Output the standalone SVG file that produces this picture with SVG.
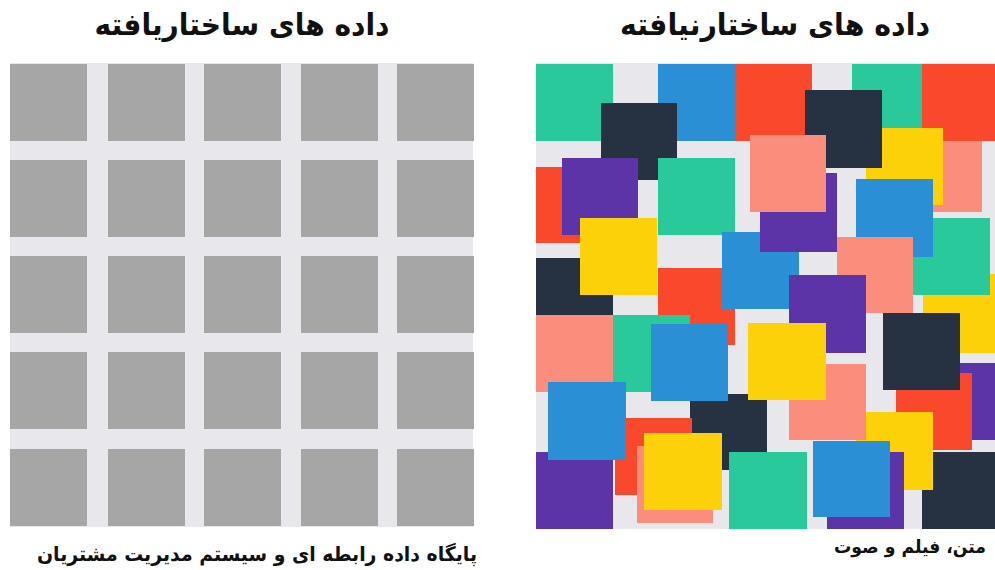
<svg xmlns="http://www.w3.org/2000/svg" width="995" height="570" viewBox="0 0 995 570">
<style>
.t{font-family:"DejaVu Sans","Noto Sans",sans-serif;font-weight:bold;fill:#111}
.bg{fill:#e8e8ec}
.gs{fill:#a6a6a6}
.g{fill:#29c99b}.b{fill:#2b8fd6}.r{fill:#f9482b}.n{fill:#263241}
.p{fill:#5d34a8}.y{fill:#fdd10a}.s{fill:#fb8d7c}
</style>
<rect width="995" height="570" fill="#ffffff"/>
<g id="structured">
<text class="t" x="242" y="35" font-size="30" text-anchor="middle" textLength="295" lengthAdjust="spacingAndGlyphs">داده های ساختاریافته</text>
<rect class="bg" x="10" y="63" width="463" height="464"/>
<g class="gs">
<rect x="10" y="64" width="77" height="77"/><rect x="108" y="64" width="77" height="77"/><rect x="204" y="64" width="77" height="77"/><rect x="301" y="64" width="77" height="77"/><rect x="397" y="64" width="77" height="77"/>
<rect x="10" y="160" width="77" height="77"/><rect x="108" y="160" width="77" height="77"/><rect x="204" y="160" width="77" height="77"/><rect x="301" y="160" width="77" height="77"/><rect x="397" y="160" width="77" height="77"/>
<rect x="10" y="256" width="77" height="77"/><rect x="108" y="256" width="77" height="77"/><rect x="204" y="256" width="77" height="77"/><rect x="301" y="256" width="77" height="77"/><rect x="397" y="256" width="77" height="77"/>
<rect x="10" y="352" width="77" height="77"/><rect x="108" y="352" width="77" height="77"/><rect x="204" y="352" width="77" height="77"/><rect x="301" y="352" width="77" height="77"/><rect x="397" y="352" width="77" height="77"/>
<rect x="10" y="449" width="77" height="77"/><rect x="108" y="449" width="77" height="77"/><rect x="204" y="449" width="77" height="77"/><rect x="301" y="449" width="77" height="77"/><rect x="397" y="449" width="77" height="77"/>
</g>
<text class="t" x="257" y="561" font-size="20" text-anchor="middle" textLength="440" lengthAdjust="spacingAndGlyphs">پایگاه داده رابطه ای و سیستم مدیریت مشتریان</text>
</g>
<g id="unstructured">
<text class="t" x="775" y="35" font-size="30" text-anchor="middle" textLength="310" lengthAdjust="spacingAndGlyphs">داده های ساختارنیافته</text>
<rect class="bg" x="536" y="63" width="459" height="466"/>
<rect class="g" x="536" y="64" width="77" height="77"/>
<rect class="b" x="658" y="64" width="77" height="77"/>
<rect class="r" x="735" y="64" width="77" height="77"/>
<rect class="g" x="852" y="64" width="77" height="77"/>
<rect class="s" x="905" y="135" width="77" height="77"/>
<rect class="r" x="922" y="64" width="77" height="77"/>
<rect class="y" x="866" y="128" width="77" height="77"/>
<rect class="n" x="805" y="90" width="77" height="78"/>
<rect class="n" x="601" y="103" width="76" height="77"/>
<rect class="r" x="536" y="167" width="77" height="76"/>
<rect class="p" x="562" y="158" width="76" height="77"/>
<rect class="g" x="658" y="158" width="77" height="77"/>
<rect class="n" x="536" y="258" width="77" height="77"/>
<rect class="y" x="580" y="218" width="77" height="77"/>
<rect class="r" x="658" y="268" width="77" height="77"/>
<rect class="b" x="722" y="232" width="77" height="77"/>
<rect class="p" x="760" y="173" width="77" height="79"/>
<rect class="s" x="750" y="135" width="76" height="77"/>
<rect class="y" x="923" y="274" width="77" height="79"/>
<rect class="g" x="913" y="218" width="77" height="77"/>
<rect class="b" x="856" y="179" width="77" height="78"/>
<rect class="s" x="837" y="237" width="76" height="76"/>
<rect class="p" x="789" y="275" width="77" height="78"/>
<rect class="p" x="960" y="363" width="77" height="77"/>
<rect class="r" x="896" y="373" width="76" height="77"/>
<rect class="n" x="883" y="313" width="77" height="77"/>
<rect class="s" x="536" y="315" width="77" height="77"/>
<rect class="g" x="613" y="315" width="77" height="77"/>
<rect class="n" x="690" y="394" width="77" height="76"/>
<rect class="b" x="651" y="324" width="77" height="77"/>
<rect class="n" x="922" y="452" width="78" height="77"/>
<rect class="y" x="856" y="412" width="77" height="78"/>
<rect class="s" x="789" y="364" width="77" height="76"/>
<rect class="y" x="748" y="323" width="78" height="77"/>
<rect class="p" x="827" y="452" width="77" height="77"/>
<rect class="b" x="813" y="441" width="77" height="76"/>
<rect class="g" x="729" y="452" width="78" height="77"/>
<rect class="p" x="536" y="452" width="77" height="77"/>
<rect class="r" x="615" y="418" width="77" height="77"/>
<rect class="b" x="548" y="382" width="78" height="78"/>
<rect class="s" x="637" y="446" width="76" height="77"/>
<rect class="y" x="644" y="433" width="78" height="77"/>
<text class="t" x="910" y="553" font-size="18" text-anchor="middle" textLength="152" lengthAdjust="spacingAndGlyphs">متن، فیلم و صوت</text>
</g>
</svg>
